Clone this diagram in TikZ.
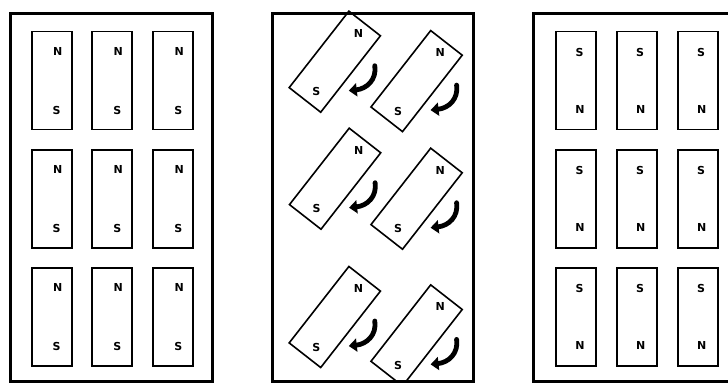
\documentclass[tikz,border=0pt]{standalone}
\usepackage{fontspec}
\setmainfont{DejaVu Sans}
\usetikzlibrary{arrows.meta,calc}
\tikzset{
  frame/.style={draw=black, line width=3pt},
  magnet/.style={draw=black, line width=1.8pt, rectangle, minimum width=40pt, minimum height=98pt, inner sep=0pt, fill=white},
  tmagnet/.style={draw=black, line width=1.6pt, rectangle, minimum width=40pt, minimum height=97pt, inner sep=0pt, fill=white, rotate=-38},
  pole/.style={font=\bfseries\fontsize{11}{11}\selectfont, inner sep=0pt},
  turn/.style={line width=4.8pt, line cap=round, -{Triangle[length=8pt,width=13pt]}}
}
\begin{document}
\begin{tikzpicture}[x=1pt,y=-1pt]
\useasboundingbox (0,0) rectangle (728,383);
\clip (0,0) rectangle (728,383);
% left panel
\foreach \c/\x in {1/51.7,2/112.3,3/173.3}{
  \foreach \r/\y in {1/80.5,2/198.8,3/316.7}{
    \node[magnet] (L\r\c) at (\x,\y) {};
    \node[pole] (LN\r\c) at (\x+6,\y-29) {N};
    \node[pole] (LS\r\c) at (\x+5,\y+30) {S};
  }
}
% right panel
\foreach \c/\x in {1/576,2/636.7,3/697.7}{
  \foreach \r/\y in {1/80.5,2/198.8,3/316.7}{
    \node[magnet] (R\r\c) at (\x,\y) {};
    \node[pole] (RS\r\c) at (\x+3.5,\y-28) {S};
    \node[pole] (RN\r\c) at (\x+4,\y+29) {N};
  }
}
% middle panel
\begin{scope}
\clip (272,0) rectangle (473,381);
\foreach \i/\x/\y in {1/334.8/61.7,2/416.6/81.1,3/335.1/178.7,4/416.6/198.7,5/334.8/317,6/416.6/335.4}{
  \node[tmagnet] (M\i) at (\x,\y) {};
  \begin{scope}[shift={(M\i.center)}, rotate=-38]
    \node[pole] (MN\i) at (1,-37) {N};
    \node[pole] (MS\i) at (4,35) {S};
  \end{scope}
  \coordinate (A\i) at ($(M\i.center)+(40,4)$);
  \coordinate (B\i) at ($(M\i.center)+(14,29)$);
  \draw[turn] (A\i) .. controls ($(M\i.center)+(42,18)$) and ($(M\i.center)+(32,27)$) .. (B\i);
}
\end{scope}
% frames
\draw[frame] (10.7,13) rectangle (212.3,381);
\draw[frame] (272,13.3) rectangle (473,381);
\draw[frame] (533.8,13) rectangle (745,381);
\end{tikzpicture}
\end{document}
